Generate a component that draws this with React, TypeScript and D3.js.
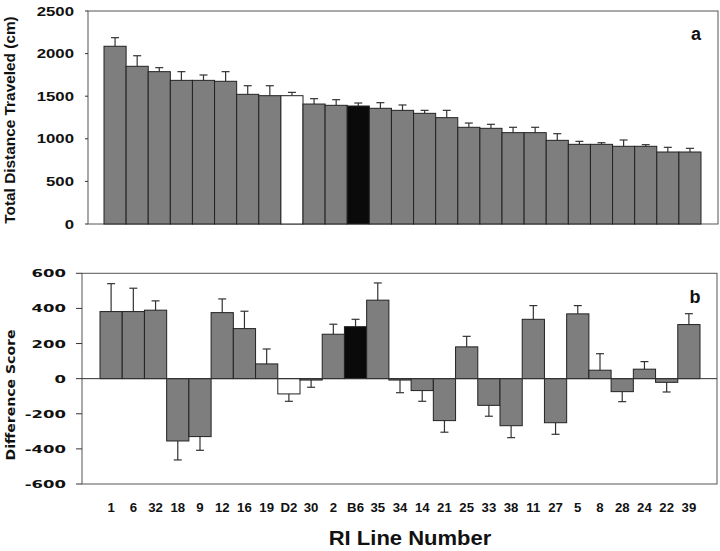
import React from "react";
import * as d3 from "d3";

const lines = ["1","6","32","18","9","12","16","19","D2","30","2","B6","35","34","14","21","25","33","38","11","27","5","8","28","24","22","39"];
const totalDist = [2086,1851,1788,1686,1686,1675,1522,1506,1506,1408,1393,1385,1358,1334,1299,1248,1135,1123,1072,1072,982,935,935,912,912,845,845];
const totalErr = [2187,1975,1835,1788,1749,1788,1623,1623,1545,1471,1459,1420,1424,1397,1334,1334,1185,1170,1135,1135,1060,970,954,986,931,900,888];
const diffScore = [382,382,390,-355,-330,376,285,84,-87,-8,253,296,447,-8,-68,-239,181,-152,-268,338,-251,369,48,-74,54,-21,308];
const diffErr = [541,515,443,-463,-408,454,384,169,-129,-49,310,338,545,-80,-129,-305,241,-214,-336,416,-317,416,142,-131,97,-76,370];
const topTicks = [0,500,1000,1500,2000,2500];
const botTicks = [-600,-400,-200,0,200,400,600];

const fillFor = (l: string) => (l === "D2" ? "#ffffff" : l === "B6" ? "#0a0a0a" : "#7e7e7e");

export default function App() {
  const xTop = d3.scaleBand<string>().domain(lines).range([104, 701]).padding(0);
  const yTop = d3.scaleLinear().domain([0, 2500]).range([224, 11]);
  const xBot = d3.scaleBand<string>().domain(lines).range([100, 700]).padding(0);
  const yBot = d3.scaleLinear().domain([-600, 600]).range([484, 273.3]);
  const cap = 4;
  const arial = "'Liberation Sans', Arial, sans-serif";
  const verd = "'DejaVu Sans', Verdana, sans-serif";

  return (
    <svg width={720} height={551} style={{ position: "absolute", left: 0, top: 0, background: "#fff" }}>
      {/* Top panel */}
      <rect x={88} y={11} width={630} height={213} fill="none" stroke="#555" strokeWidth={1} />
      {topTicks.map((t) => (
        <g key={"tt" + t}>
          <line x1={85} x2={88} y1={yTop(t)} y2={yTop(t)} stroke="#333" />
          <text
            transform={`translate(74,${yTop(t) + 4.5}) scale(1.4,1)`}
            textAnchor="end"
            fontFamily={arial}
            fontWeight="bold"
            fontSize={12}
            fill="#111"
          >
            {t}
          </text>
        </g>
      ))}
      {lines.map((l, i) => {
        const x = xTop(l)!;
        const w = xTop.bandwidth();
        const cx = x + w / 2;
        return (
          <g key={"tb" + l}>
            <line x1={cx} x2={cx} y1={yTop(totalDist[i])} y2={yTop(totalErr[i])} stroke="#333" strokeWidth={1.2} />
            <line x1={cx - cap} x2={cx + cap} y1={yTop(totalErr[i])} y2={yTop(totalErr[i])} stroke="#333" strokeWidth={1.2} />
            <rect x={x} y={yTop(totalDist[i])} width={w} height={yTop(0) - yTop(totalDist[i])} fill={fillFor(l)} stroke="#222" strokeWidth={1} />
          </g>
        );
      })}
      <text x={696} y={40} textAnchor="middle" fontFamily={arial} fontWeight="bold" fontSize={18} fill="#111">a</text>
      <text
        transform="translate(15,120) rotate(-90) scale(1.1,1)"
        textAnchor="middle"
        fontFamily={arial}
        fontWeight="bold"
        fontSize={14}
        fill="#111"
      >
        Total Distance Traveled (cm)
      </text>

      {/* Bottom panel */}
      <rect x={82} y={273.3} width={635} height={210.7} fill="none" stroke="#555" strokeWidth={1} />
      {botTicks.map((t) => (
        <g key={"bt" + t}>
          <line x1={76} x2={82} y1={yBot(t)} y2={yBot(t)} stroke="#333" />
          <text
            transform={`translate(66,${yBot(t) + 4}) scale(1.5,1)`}
            textAnchor="end"
            fontFamily={verd}
            fontWeight="bold"
            fontSize={11}
            fill="#111"
          >
            {t < 0 ? "-" + Math.abs(t) : t}
          </text>
        </g>
      ))}
      {lines.map((l, i) => {
        const x = xBot(l)!;
        const w = xBot.bandwidth();
        const cx = x + w / 2;
        const y0 = yBot(0);
        const yv = yBot(diffScore[i]);
        const ye = yBot(diffErr[i]);
        return (
          <g key={"bb" + l}>
            <line x1={cx} x2={cx} y1={yv} y2={ye} stroke="#333" strokeWidth={1.2} />
            <line x1={cx - cap} x2={cx + cap} y1={ye} y2={ye} stroke="#333" strokeWidth={1.2} />
            <rect x={x} y={Math.min(yv, y0)} width={w} height={Math.abs(yv - y0)} fill={fillFor(l)} stroke="#222" strokeWidth={1} />
          </g>
        );
      })}
      <line x1={82} x2={717} y1={yBot(0)} y2={yBot(0)} stroke="#333" strokeWidth={1} />
      <text x={695} y={303} textAnchor="middle" fontFamily={arial} fontWeight="bold" fontSize={18} fill="#111">b</text>
      <text
        transform="translate(15,395) rotate(-90) scale(1.08,1)"
        textAnchor="middle"
        fontFamily={verd}
        fontWeight="bold"
        fontSize={13}
        fill="#111"
      >
        Difference Score
      </text>

      {/* X labels */}
      {lines.map((l) => (
        <text
          key={"xl" + l}
          transform={`translate(${xBot(l)! + xBot.bandwidth() / 2},512) scale(1.1,1)`}
          textAnchor="middle"
          fontFamily={arial}
          fontWeight="bold"
          fontSize={12}
          fill="#111"
        >
          {l}
        </text>
      ))}
      <text transform="translate(410,545) scale(1.1,1)" textAnchor="middle" fontFamily={arial} fontWeight="bold" fontSize={20} fill="#111">
        RI Line Number
      </text>
    </svg>
  );
}
